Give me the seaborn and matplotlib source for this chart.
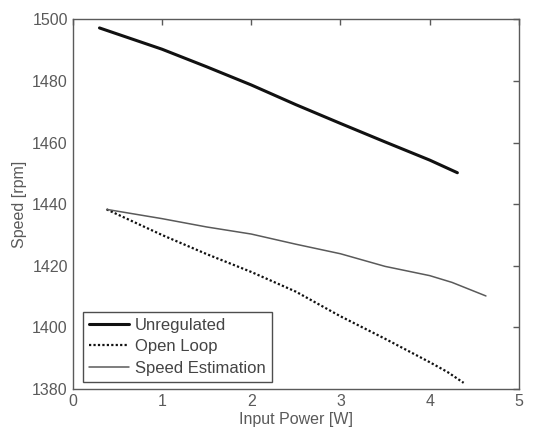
import numpy as np
import matplotlib
matplotlib.use("Agg")
import matplotlib.pyplot as plt
import pandas as pd
import seaborn as sns

sns.set_style("white")
plt.rcParams["font.family"] = ["Liberation Sans", "DejaVu Sans"]

# values
unreg_p = [0.30, 1.0, 1.5, 2.0, 2.5, 3.0, 3.5, 4.0, 4.31]
unreg_s = [1497.2, 1490.3, 1484.6, 1478.7, 1472.3, 1466.2, 1460.2, 1454.3, 1450.2]

open_p = [0.38, 1.0, 1.5, 2.0, 2.5, 3.0, 3.5, 4.0, 4.2, 4.38]
open_s = [1438.3, 1430.0, 1423.8, 1418.0, 1411.6, 1403.6, 1396.3, 1388.7, 1385.5, 1382.0]

est_p = [0.38, 1.0, 1.5, 2.0, 2.5, 3.0, 3.5, 4.0, 4.25, 4.63]
est_s = [1438.3, 1435.3, 1432.6, 1430.3, 1427.0, 1423.9, 1419.8, 1416.8, 1414.6, 1410.2]

df = pd.concat([
    pd.DataFrame({"Input Power [W]": unreg_p, "Speed [rpm]": unreg_s, "Method": "Unregulated"}),
    pd.DataFrame({"Input Power [W]": open_p, "Speed [rpm]": open_s, "Method": "Open Loop"}),
    pd.DataFrame({"Input Power [W]": est_p, "Speed [rpm]": est_s, "Method": "Speed Estimation"}),
])

grey = "#5a5a5a"
fig = plt.figure(figsize=(5.48, 4.34), dpi=100)
ax = fig.add_axes([0.1327, 0.1037, 0.8143, 0.8518])

styles = {"Unregulated": dict(color="#111111", lw=2.2, ls="-"),
          "Open Loop": dict(color="#111111", lw=1.6, ls=(0, (1, 1))),
          "Speed Estimation": dict(color=grey, lw=1.1, ls="-")}
for name, st in styles.items():
    sub = df[df["Method"] == name]
    sns.lineplot(data=sub, x="Input Power [W]", y="Speed [rpm]", ax=ax, label=name,
                 color=st["color"], linewidth=st["lw"], linestyle=st["ls"],
                 estimator=None, sort=False)

ax.set_xlim(0, 5)
ax.set_ylim(1380, 1500)
ax.set_xticks([0, 1, 2, 3, 4, 5])
ax.set_yticks(np.arange(1380, 1501, 20))
ax.tick_params(direction="in", length=4, top=True, right=True, colors=grey,
               labelsize=11.5, labelcolor=grey, width=1)
for s in ax.spines.values():
    s.set_color(grey)
    s.set_linewidth(1)
ax.set_xlabel("Input Power [W]", fontsize=11.5, color=grey, labelpad=2)
ax.set_ylabel("Speed [rpm]", fontsize=11.5, color=grey, labelpad=4)

leg = ax.legend(loc="lower left", bbox_to_anchor=(0.0224, 0.0197), borderaxespad=0,
                fontsize=12, frameon=True, fancybox=False, edgecolor="#222222",
                handlelength=2.4, labelspacing=0.4, borderpad=0.35, handletextpad=0.4)
leg.get_frame().set_linewidth(1)
for t in leg.get_texts():
    t.set_color("#444444")

fig.savefig("out.png", dpi=100)
